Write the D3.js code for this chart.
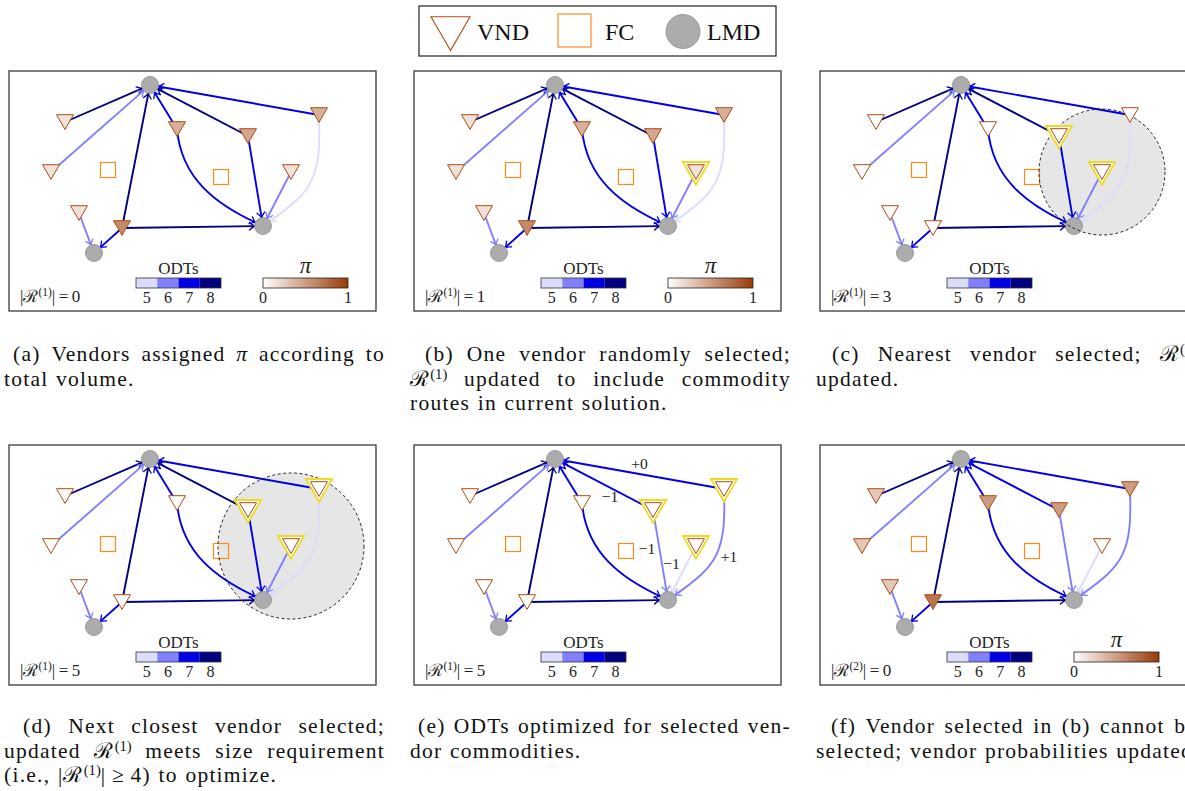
<!DOCTYPE html>
<html lang="en">
<head>
<meta charset="UTF-8">
<script src="https://d3js.org/d3.v7.min.js"></script>
<style>
  body { margin: 0; width: 1185px; height: 791px; overflow: hidden; position: relative; background: #fff; }
  svg { position: absolute; left: 0; top: 0; }
  .cap { position: absolute; width: 381px; font-family: "Liberation Serif", "Times New Roman", "DejaVu Serif", serif;
         font-size: 21.5px; letter-spacing: 1.25px; line-height: 24.5px; color: #111; }
  .cap .j { display: flex; justify-content: space-between; white-space: nowrap; }
  .cap .l { white-space: nowrap; word-spacing: 1px; }
  .cap sup { font-size: 0.68em; line-height: 0; vertical-align: 0.5em; letter-spacing: 0; }
</style>
</head>
<body>
<script>
// node locations, in the frame of one panel box (367 x 240)
const lmdPos = [[141, 14], [254, 155], [85, 182]];
const vendorPos = [[56, 51], [42, 101], [70, 142], [113, 157], [168, 58], [239, 65], [282, 101], [310, 44]];
const fcPos = [[99, 99], [212, 106]];

// commodity routes vendor -> LMD and their ODT counts
const routeVendor = [0, 1, 3, 3, 3, 2, 4, 4, 5, 5, 7, 7, 6];
const routeLmd    = [0, 0, 0, 1, 2, 2, 0, 1, 0, 1, 0, 1, 1];
const odtInitial   = [8, 6, 8, 8, 7, 6, 7, 7, 8, 7, 7, 5, 6];
const odtOptimized = [8, 6, 8, 8, 7, 6, 7, 7, 7, 6, 7, 6, 5];

// vendor selection probabilities
const piInitial = [0.15, 0.15, 0.15, 0.6, 0.4, 0.45, 0.15, 0.4];
const piUpdated = [0.28, 0.28, 0.28, 0.7, 0.5, 0.5, 0, 0.5];

const odtTicks = [5, 6, 7, 8];
const piTicks = [0, 1];

// per panel
const panelSet  = [1, 1, 1, 1, 1, 2];
const panelSize = [0, 1, 3, 5, 5, 0];
const panelPi   = [piInitial, piInitial, null, null, null, piUpdated];
const panelOdt  = [odtInitial, odtInitial, odtInitial, odtInitial, odtOptimized, odtOptimized];
const panelSelected = [[], [6], [5, 6], [5, 6, 7], [5, 6, 7], []];
const panelRadius = [0, 0, 63, 73, 0, 0];

// ODT changes shown in (e)
const deltaRoute = [10, 8, 12, 9, 11];
const deltaText  = ["+0", "\u22121", "\u22121", "\u22121", "+1"];
const deltaShift = [[0, -11], [6, 12], [-35, -25], [11, 8], [13, 2]];

const captions = [
  ["(a) Vendors assigned <i>\u03c0</i> according to", "total volume."],
  ["(b) One vendor randomly selected;", "\u211b<sup>(1)</sup> updated to include commodity", "routes in current solution."],
  ["(c) Nearest vendor selected; \u211b<sup>(1)</sup>", "updated."],
  ["(d) Next closest vendor selected;", "updated \u211b<sup>(1)</sup> meets size requirement", "(i.e., |\u211b<sup>(1)</sup>|\u2009\u2265\u20094) to optimize."],
  ["(e) ODTs optimized for selected ven-", "dor commodities."],
  ["(f) Vendor selected in (b) cannot be", "selected; vendor probabilities updated."]
];
const captionIndent = [9, 15, 16, 19, 8, 15];

// curved routes: out angle, in angle, looseness (tikz style)
const routeBend = {7: [-85, 155, 0.39], 11: [-88, 35, 0.5]};

const W = 1185, H = 791, boxW = 367, boxH = 240, lmdR = 8.5;
const panelOrigin = [[9, 71], [414, 71], [820, 71], [9, 445], [414, 445], [820, 445]];
const serif = '"Liberation Serif", "Times New Roman", "DejaVu Serif", serif';

const odtColor = d3.scaleOrdinal().domain(odtTicks).range(["#dcdcfd", "#8080ff", "#0000e8", "#000080"]);
const piColor = d3.scaleLinear().domain([0, 1]).range(["#ffffff", "#9a3a06"]);

const svg = d3.select("body").append("svg").attr("width", W).attr("height", H);
const defs = svg.append("defs");

odtTicks.forEach(o => {
  defs.append("marker")
      .attr("id", "arr" + o)
      .attr("viewBox", "-7 -5 10 10")
      .attr("markerWidth", 10).attr("markerHeight", 10)
      .attr("markerUnits", "userSpaceOnUse")
      .attr("refX", 0).attr("refY", 0)
      .attr("orient", "auto")
    .append("path")
      .attr("d", "M-5,-3.8 Q-1.8,-0.9 0,0 Q-1.8,0.9 -5,3.8")
      .attr("fill", "none")
      .attr("stroke", odtColor(o))
      .attr("stroke-width", 1.3)
      .attr("stroke-linecap", "round")
})

const grad = defs.append("linearGradient").attr("id", "piGrad")
d3.range(0, 1.01, 0.1).forEach(t => {
  grad.append("stop").attr("offset", t).attr("stop-color", piColor(t))
})

const tri = d3.symbol(d3.symbolTriangle, 125)()
const triBig = d3.symbol(d3.symbolTriangle, 300)()
const triLegend = d3.symbol(d3.symbolTriangle, 660)()

function bendControls(p0, p1, b) {
  const d = Math.hypot(p1[0] - p0[0], p1[1] - p0[1]) * b[2]
  const a0 = b[0] * Math.PI / 180, a1 = b[1] * Math.PI / 180
  return [[p0[0] + d * Math.cos(a0), p0[1] - d * Math.sin(a0)],
          [p1[0] + d * Math.cos(a1), p1[1] - d * Math.sin(a1)]]
}

function routePath(k, x, y) {
  const v = vendorPos[routeVendor[k]], l = lmdPos[routeLmd[k]]
  const p0 = [x(v[0]), y(v[1])], p1 = [x(l[0]), y(l[1])]
  const path = d3.path()
  path.moveTo(p0[0], p0[1])
  const b = routeBend[k]
  if (b) {
    const [c1, c2] = bendControls(p0, p1, b)
    const len = Math.hypot(p1[0] - c2[0], p1[1] - c2[1])
    path.bezierCurveTo(c1[0], c1[1], c2[0], c2[1],
      p1[0] - (p1[0] - c2[0]) / len * lmdR, p1[1] - (p1[1] - c2[1]) / len * lmdR)
  } else {
    const len = Math.hypot(p1[0] - p0[0], p1[1] - p0[1])
    path.lineTo(p1[0] - (p1[0] - p0[0]) / len * lmdR, p1[1] - (p1[1] - p0[1]) / len * lmdR)
  }
  return path.toString()
}

function routeMid(k) {
  const v = vendorPos[routeVendor[k]], l = lmdPos[routeLmd[k]]
  const b = routeBend[k]
  if (!b) return [(v[0] + l[0]) / 2, (v[1] + l[1]) / 2]
  const [c1, c2] = bendControls(v, l, b)
  return [(v[0] + 3 * c1[0] + 3 * c2[0] + l[0]) / 8, (v[1] + 3 * c1[1] + 3 * c2[1] + l[1]) / 8]
}

panelOrigin.forEach(([ox, oy], i) => {
  const x = d3.scaleLinear().domain([0, boxW]).range([ox, ox + boxW])
  const y = d3.scaleLinear().domain([0, boxH]).range([oy, oy + boxH])
  const g = svg.append("g")
  const odt = panelOdt[i], pi = panelPi[i], sel = panelSelected[i]

  g.append("rect")
      .attr("x", x(0)).attr("y", y(0))
      .attr("width", boxW).attr("height", boxH)
      .attr("fill", "none").attr("stroke", "#3a3a3a").attr("stroke-width", 1.3)

  // neighbourhood around the selected vendor
  const rad = panelRadius[i]
  if (rad) {
    g.append("circle")
        .attr("cx", x(vendorPos[6][0])).attr("cy", y(vendorPos[6][1]))
        .attr("r", x(rad) - x(0))
        .attr("fill", "#e6e6e6")
  }

  g.selectAll(".route")
    .data(d3.range(routeVendor.length))
    .join("path")
      .attr("d", k => routePath(k, x, y))
      .attr("fill", "none")
      .attr("stroke", k => odtColor(odt[k]))
      .attr("stroke-width", 1.9)
      .attr("marker-end", k => `url(#arr${odt[k]})`)

  g.selectAll(".fc")
    .data(fcPos)
    .join("rect")
      .attr("x", d => x(d[0]) - 7.5).attr("y", d => y(d[1]) - 7.5)
      .attr("width", 15).attr("height", 15)
      .attr("fill", "none").attr("stroke", "#ff8a1c").attr("stroke-width", 1.2)

  g.selectAll(".lmd")
    .data(lmdPos)
    .join("circle")
      .attr("cx", d => x(d[0])).attr("cy", d => y(d[1]))
      .attr("r", lmdR)
      .attr("fill", "#acacac").attr("stroke", "#8c8c8c").attr("stroke-width", 0.8)

  if (rad) {
    g.append("circle")
        .attr("cx", x(vendorPos[6][0])).attr("cy", y(vendorPos[6][1]))
        .attr("r", x(rad) - x(0))
        .attr("fill", "none").attr("stroke", "#222")
        .attr("stroke-width", 1).attr("stroke-dasharray", "3,2.5")
  }

  g.selectAll(".sel")
    .data(sel)
    .join("path")
      .attr("d", triBig)
      .attr("transform", v => `translate(${x(vendorPos[v][0])},${y(vendorPos[v][1]) - 2.4}) rotate(180)`)
      .attr("fill", "#fff").attr("stroke", "#f0dc1e").attr("stroke-width", 1.8)

  g.selectAll(".vnd")
    .data(vendorPos)
    .join("path")
      .attr("d", tri)
      .attr("transform", d => `translate(${x(d[0])},${y(d[1]) - 2.4}) rotate(180)`)
      .attr("fill", (d, j) => pi ? piColor(pi[j]) : "#fff")
      .attr("stroke", "#b24c12").attr("stroke-width", 1)

  if (i === 4) {
    g.selectAll(".delta")
      .data(deltaRoute)
      .join("text")
        .attr("x", (k, j) => x(routeMid(k)[0] + deltaShift[j][0]))
        .attr("y", (k, j) => y(routeMid(k)[1] + deltaShift[j][1]))
        .attr("text-anchor", "middle").attr("dominant-baseline", "central")
        .attr("font-family", serif).attr("font-size", 15.5).attr("fill", "#222")
        .text((k, j) => deltaText[j])
  }

  // |R| label
  const lab = g.append("text")
      .attr("x", x(11)).attr("y", y(231))
      .attr("font-family", serif).attr("font-size", 17).attr("fill", "#222")
  lab.append("tspan").text("|\u211b")
  lab.append("tspan").attr("dy", -6).attr("font-size", 11.5).text(`(${panelSet[i]})`)
  lab.append("tspan").attr("dy", 6).text(`|\u2009=\u2009${panelSize[i]}`)

  // ODT legend
  const ob = d3.scaleBand().domain(odtTicks).range([x(127), x(212)])
  g.selectAll(".odtSeg")
    .data(odtTicks)
    .join("rect")
      .attr("x", d => ob(d)).attr("y", y(207))
      .attr("width", ob.bandwidth()).attr("height", 10)
      .attr("fill", d => odtColor(d))
  g.append("rect")
      .attr("x", x(127)).attr("y", y(207)).attr("width", x(212) - x(127)).attr("height", 10)
      .attr("fill", "none").attr("stroke", "#333").attr("stroke-width", 0.8)
  g.selectAll(".odtTick")
    .data(odtTicks)
    .join("text")
      .attr("x", d => ob(d) + ob.bandwidth() / 2).attr("y", y(232))
      .attr("text-anchor", "middle")
      .attr("font-family", serif).attr("font-size", 16).attr("fill", "#222")
      .text(d => d)
  g.append("text")
      .attr("x", x(169.5)).attr("y", y(203))
      .attr("text-anchor", "middle")
      .attr("font-family", serif).attr("font-size", 17).attr("fill", "#222")
      .text("ODTs")

  // pi legend
  if (pi) {
    const px = d3.scaleLinear().domain([0, 1]).range([x(254), x(339)])
    g.append("rect")
        .attr("x", px(0)).attr("y", y(207)).attr("width", px(1) - px(0)).attr("height", 10)
        .attr("fill", "url(#piGrad)").attr("stroke", "#222").attr("stroke-width", 0.8)
    g.selectAll(".piTick")
      .data(piTicks)
      .join("text")
        .attr("x", d => px(d)).attr("y", y(232))
        .attr("text-anchor", "middle")
        .attr("font-family", serif).attr("font-size", 16).attr("fill", "#222")
        .text(d => d)
    g.append("text")
        .attr("x", px(0.5)).attr("y", y(202))
        .attr("text-anchor", "middle")
        .attr("font-family", serif).attr("font-style", "italic").attr("font-size", 23).attr("fill", "#222")
        .text("\u03c0")
  }
})

// top legend
const lg = svg.append("g")
lg.append("rect").attr("x", 419).attr("y", 6).attr("width", 357).attr("height", 50)
    .attr("fill", "#fff").attr("stroke", "#333").attr("stroke-width", 1.3)
lg.append("path").attr("d", triLegend)
    .attr("transform", "translate(450.5,28) rotate(180)")
    .attr("fill", "#fff").attr("stroke", "#b24c12").attr("stroke-width", 1.1)
lg.append("rect").attr("x", 558).attr("y", 14).attr("width", 33).attr("height", 33)
    .attr("fill", "#fff").attr("stroke", "#ff8a1c").attr("stroke-width", 1.2)
lg.append("circle").attr("cx", 683).attr("cy", 31.5).attr("r", 17)
    .attr("fill", "#acacac").attr("stroke", "#8c8c8c").attr("stroke-width", 0.8)
lg.selectAll(".lgText")
  .data([["VND", 477], ["FC", 605], ["LMD", 707]])
  .join("text")
    .attr("x", d => d[1]).attr("y", 40)
    .attr("font-family", serif).attr("font-size", 24).attr("fill", "#111")
    .text(d => d[0])

// captions, justified line by line as in the paper
const capLeft = [4, 410, 816, 4, 410, 816]
const capTop = [342, 342, 342, 714, 714, 714]
captions.forEach((lines, i) => {
  const c = d3.select("body").append("div").attr("class", "cap")
      .style("left", capLeft[i] + "px").style("top", capTop[i] + "px")
  lines.forEach((t, j) => {
    const last = j === lines.length - 1
    const row = c.append("div")
        .attr("class", last ? "l" : "j")
        .style("padding-left", j === 0 ? captionIndent[i] + "px" : "0px")
    if (last) row.html(t)
    else row.selectAll("span").data(t.split(" ")).join("span").html(w => w)
  })
})
</script>
</body>
</html>
